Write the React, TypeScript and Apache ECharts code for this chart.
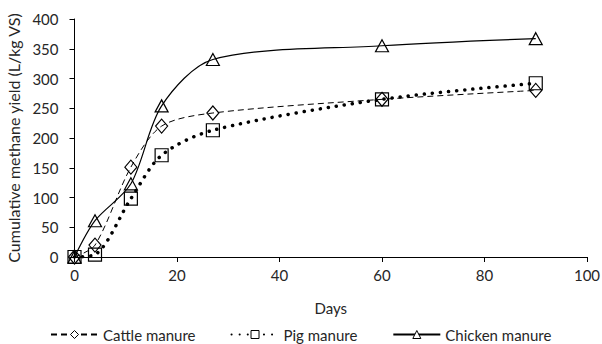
import React, { useEffect, useRef } from "react";
import * as echarts from "echarts";

const days = [0, 4, 11, 17, 27, 60, 90];
const cattle = [0, 20, 151, 220, 242, 265, 280];
const pig = [0, 4, 98, 171, 213, 265, 292];
const chicken = [0, 61, 123, 254, 332, 355, 367];
const seriesNames = ["Cattle manure", "Pig manure", "Chicken manure"];

const FONT = "Lato, 'Open Sans', sans-serif";
const TXT = "#262626";

export default function App() {
  const ref = useRef<HTMLDivElement>(null);
  useEffect(() => {
    if (!ref.current) return;
    const chart = echarts.init(ref.current, undefined, { renderer: "svg" });
    const pairs = (ys: number[]) => days.map((d, i) => [d, ys[i]]);
    const marker = {
      color: "transparent",
      borderColor: "#000",
      borderWidth: 1.2,
    };
    chart.setOption({
      animation: false,
      backgroundColor: "#fff",
      textStyle: { fontFamily: FONT },
      grid: {
        left: 74.5,
        right: 15,
        top: 19,
        bottom: 87,
        containLabel: false,
        outerBoundsMode: "none",
      },
      legend: {
        top: 322,
        left: 45,
        padding: 5,
        itemWidth: 47,
        itemHeight: 10,
        itemGap: 35,
        itemStyle: { color: "#fff", borderColor: "#000", borderWidth: 1 },
        textStyle: { fontFamily: FONT, fontSize: 15, color: TXT },
        data: seriesNames,
      },
      xAxis: {
        type: "value",
        min: 0,
        max: 100,
        interval: 20,
        name: "Days",
        nameLocation: "middle",
        nameGap: 43,
        nameTextStyle: { fontFamily: FONT, fontSize: 15, color: TXT },
        axisLine: { onZero: false, lineStyle: { color: "#000", width: 1 } },
        axisTick: { show: true, length: 5, lineStyle: { color: "#000" } },
        axisLabel: { fontFamily: FONT, fontSize: 15, color: TXT, margin: 10 },
        splitLine: { show: false },
      },
      yAxis: {
        type: "value",
        min: 0,
        max: 400,
        interval: 50,
        name: "Cumulative methane yield (L/kg VS)",
        nameLocation: "middle",
        nameGap: 49,
        nameTextStyle: { fontFamily: FONT, fontSize: 16, color: TXT },
        axisLine: { show: true, lineStyle: { color: "#000", width: 1 } },
        axisTick: { show: true, length: 5, lineStyle: { color: "#000" } },
        axisLabel: { fontFamily: FONT, fontSize: 15, color: TXT, margin: 16 },
        splitLine: { show: false },
      },
      series: [
        {
          name: seriesNames[0],
          type: "line",
          data: pairs(cattle),
          smooth: 0.3,
          symbol: "diamond",
          symbolSize: [12, 14],
          itemStyle: marker,
          lineStyle: { color: "#000", width: 1, type: [6, 4] },
        },
        {
          name: seriesNames[1],
          type: "line",
          data: pairs(pig),
          smooth: 0.3,
          symbol: "rect",
          symbolSize: 13,
          itemStyle: marker,
          lineStyle: { color: "#000", width: 3.5, type: [0.1, 8], cap: "round" },
        },
        {
          name: seriesNames[2],
          type: "line",
          data: pairs(chicken),
          smooth: 0.3,
          symbol: "triangle",
          symbolSize: [13, 12],
          itemStyle: marker,
          lineStyle: { color: "#000", width: 1.2 },
        },
      ],
    });
    return () => chart.dispose();
  }, []);
  return <div ref={ref} style={{ width: 602, height: 344, position: "absolute", left: 0, top: 0 }} />;
}
